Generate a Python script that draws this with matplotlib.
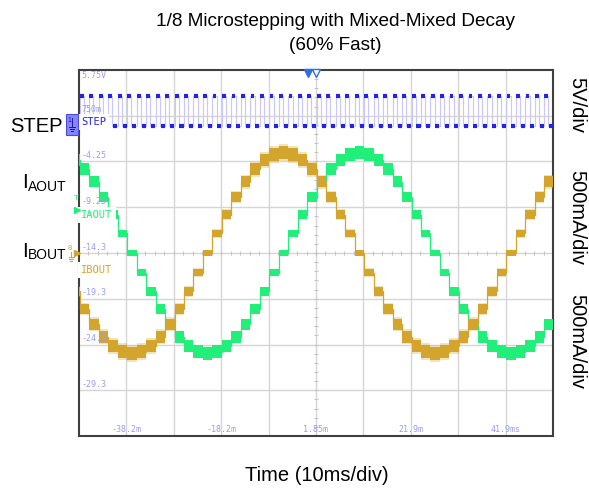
import numpy as np
import matplotlib
matplotlib.use('Agg')
import matplotlib.pyplot as plt
from matplotlib.patches import Rectangle

plt.rcParams['font.family'] = ['Liberation Sans', 'DejaVu Sans']

# scope screen: 10 ms/div centred on 1.85 ms, ch1 grid at 5 V/div
x_left, x_right = -48.15, 51.85
y_top, y_bottom = 5.75, -34.25
y_center = -14.25
x_center = 1.85

grid_x_labels = ['-38.2m', '-18.2m', '1.85m', '21.9m', '41.9ms']
grid_y_labels = ['5.75V', '750m', '-4.25', '-9.25', '-14.3', '-19.3', '-24.3', '-29.3']

# STEP input (ch1), rising edge every microstep
step_edges_ms = [-48, -46, -44, -42, -40, -38, -36, -34, -32, -30,
                 -28, -26, -24, -22, -20, -18, -16, -14, -12, -10,
                 -8, -6, -4, -2, 0, 2, 4, 6, 8, 10,
                 12, 14, 16, 18, 20, 22, 24, 26, 28, 30,
                 32, 34, 36, 38, 40, 42, 44, 46, 48, 50]
step_high_ms = 0.9
step_low_v = -0.35
step_high_v = 2.9

# winding currents in mA, one level per microstep (first one before the first edge)
iaout_ma = [1015, 915, 780, 610, 420, 215, 0, -215, -420, -610,
            -780, -915, -1015, -1080, -1100, -1080, -1015, -915, -780, -610,
            -420, -215, 0, 215, 420, 610, 780, 915, 1015, 1080,
            1100, 1080, 1015, 915, 780, 610, 420, 215, 0, -215,
            -420, -610, -780, -915, -1015, -1080, -1100, -1080, -1015, -915,
            -780]
ibout_ma = [-420, -610, -780, -915, -1015, -1080, -1100, -1080, -1015, -915,
            -780, -610, -420, -215, 0, 215, 420, 610, 780, 915,
            1015, 1080, 1100, 1080, 1015, 915, 780, 610, 420, 215,
            0, -215, -420, -610, -780, -915, -1015, -1080, -1100, -1080,
            -1015, -915, -780, -610, -420, -215, 0, 215, 420, 610,
            780]
trigger_level_ma = 470

c_step = '#2323ee'
c_step_thin = '#c8c8ff'
c_a = '#22ee7a'
c_b = '#d4a52c'
c_grat = '#9c9cf2'

W, H = 589, 494


def fx(px):
    return px / W


def fy(py):
    return 1 - py / H


def ma_to_y(ma):
    # 500 mA/div drawn on the 5 V/div grid
    return y_center + np.asarray(ma, dtype=float) / 100.0


fig = plt.figure(figsize=(W / 100, H / 100), dpi=100)
ax = fig.add_axes([fx(79), fy(436), 474 / W, 366 / H])
ax.set_xlim(x_left, x_right)
ax.set_ylim(y_bottom, y_top)
ax.set_xticks([])
ax.set_yticks([])
for s in ax.spines.values():
    s.set_color('#404040')
    s.set_linewidth(1.5)

# graticule
for k in range(1, 10):
    ax.axvline(x_left + 10 * k, color='#d6d6d6', lw=1, zorder=0)
for k in range(1, 8):
    ax.axhline(y_top - 5 * k, color='#d6d6d6', lw=1, zorder=0)
ax.vlines(np.arange(x_left, x_right, 2), y_center - 0.25, y_center + 0.25,
          color='#c4c4c4', lw=0.8, zorder=0)
ax.hlines(np.arange(y_bottom, y_top, 1), x_center - 0.45, x_center + 0.45,
          color='#c4c4c4', lw=0.8, zorder=0)

for i, lbl in enumerate(grid_y_labels):
    yv = y_top - 5 * i
    if i == 0:
        ax.annotate(lbl, (x_left, yv), xytext=(2, -1), textcoords='offset points',
                    ha='left', va='top', fontsize=6, family='DejaVu Sans Mono',
                    color=c_grat, zorder=6)
    else:
        ax.annotate(lbl, (x_left, yv), xytext=(2, 1), textcoords='offset points',
                    ha='left', va='bottom', fontsize=6, family='DejaVu Sans Mono',
                    color=c_grat, zorder=6)
for i, lbl in enumerate(grid_x_labels):
    xv = x_left + 10 * (1 + 2 * i)
    ax.annotate(lbl, (xv, y_bottom), xytext=(0, 1.5), textcoords='offset points',
                ha='center', va='bottom', fontsize=6, family='DejaVu Sans Mono',
                color=c_grat, zorder=6)

# STEP trace
edges = np.array(step_edges_ms, dtype=float)
sx, sy = [x_left], [step_low_v]
for e in edges:
    sx += [e, e, e + step_high_ms, e + step_high_ms]
    sy += [step_low_v, step_high_v, step_high_v, step_low_v]
sx.append(x_right)
sy.append(step_low_v)
ax.plot(sx, sy, color=c_step_thin, lw=0.8, zorder=2)
ax.hlines(np.full(len(edges), step_high_v), edges + 0.05, edges + step_high_ms - 0.05,
          color=c_step, lw=3, zorder=3)
ax.hlines(np.full(len(edges), step_low_v), edges + step_high_ms + 0.15,
          np.minimum(edges + 1.9, x_right), color=c_step, lw=3, zorder=3)

# current traces
bounds = np.array([x_left] + step_edges_ms + [x_right], dtype=float)


def draw_current(levels, color, z, fuzz):
    lv = np.asarray(levels, dtype=float)
    y = ma_to_y(lv)
    h = (28 + 0.04 * np.abs(lv)) / 100.0
    yy = np.append(y, y[-1])
    hh = np.append(h, h[-1])
    if fuzz:
        ax.fill_between(bounds, yy - hh * 1.3, yy + hh * 1.3, step='post',
                        color=color, alpha=0.3, lw=0, zorder=z)
    ax.fill_between(bounds, yy - hh, yy + hh, step='post', color=color, lw=0, zorder=z)
    ax.step(bounds, yy, where='post', color=color, lw=0.9, zorder=z)


draw_current(iaout_ma, c_a, 3, False)
draw_current(ibout_ma, c_b, 3.5, True)

# channel tags inside the screen
box = dict(boxstyle='square,pad=0.3', fc='white', ec='none')
ax.text(x_left + 0.5, 0.05, 'STEP', fontsize=7.5, family='DejaVu Sans Mono',
        color=c_step, ha='left', va='center', bbox=box, zorder=5)
ax.text(x_left + 0.5, -10.1, 'IAOUT', fontsize=7.5, family='DejaVu Sans Mono',
        color=c_a, ha='left', va='center', bbox=box, zorder=5)
ax.text(x_left + 0.5, -16.1, 'IBOUT', fontsize=7.5, family='DejaVu Sans Mono',
        color=c_b, ha='left', va='center', bbox=box, zorder=5)

# trigger / position markers
ax.plot([0.15], [y_top - 0.35], marker='v', ms=6, color='#2f6fe6', clip_on=False, zorder=7)
ax.plot([x_center], [y_top - 0.35], marker='v', ms=6, mfc='white', mec='#2f6fe6',
        clip_on=False, zorder=7)
ax.plot([x_left - 0.45], [ma_to_y(trigger_level_ma)], marker='>', ms=4.5, color=c_a,
        clip_on=False, zorder=7)
fig.text(fx(76), fy(199), 'T', fontsize=6, color=c_a, ha='center', va='center')
ax.plot([x_left - 0.45], [y_center], marker='>', ms=4.5, color=c_b, clip_on=False, zorder=7)
fig.text(fx(70), fy(248), '8', fontsize=5.5, color=c_b, ha='center', va='center')
for i, w in enumerate([5, 3.5, 2]):
    fig.add_artist(plt.Line2D([fx(71 - w / 2), fx(71 + w / 2)], [fy(257 + 2 * i)] * 2,
                              color=c_b, lw=0.8, transform=fig.transFigure))
fig.add_artist(plt.Line2D([fx(71), fx(71)], [fy(252), fy(257)], color=c_b, lw=0.8,
                          transform=fig.transFigure))

fig.add_artist(Rectangle((fx(66), fy(135)), 12 / W, 21 / H, transform=fig.transFigure,
                         facecolor='#8585ff', edgecolor='#4a4ae0', lw=0.8))
fig.text(fx(69), fy(120), '1', fontsize=5, color='#1a1aa0', ha='center', va='center')
fig.add_artist(plt.Line2D([fx(72), fx(72)], [fy(118), fy(126)], color='#1a1aa0', lw=0.7,
                          transform=fig.transFigure))
for i, w in enumerate([6, 4, 2]):
    fig.add_artist(plt.Line2D([fx(72 - w / 2), fx(72 + w / 2)], [fy(127 + 2 * i)] * 2,
                              color='#1a1aa0', lw=0.7, transform=fig.transFigure))

# outer labels
fig.text(fx(335), fy(21), '1/8 Microstepping with Mixed-Mixed Decay', fontsize=13.7,
         ha='center', va='center')
fig.text(fx(335), fy(45), '(60% Fast)', fontsize=13.7, ha='center', va='center')
fig.text(fx(317), fy(475), 'Time (10ms/div)', fontsize=14.5, ha='center', va='center')

fig.text(fx(10), fy(127), 'STEP', fontsize=14.5, ha='left', va='center')
fig.text(fx(22), fy(188), 'I', fontsize=15, ha='left', va='baseline')
fig.text(fx(27.5), fy(191), 'AOUT', fontsize=10, ha='left', va='baseline')
fig.text(fx(22), fy(257), 'I', fontsize=15, ha='left', va='baseline')
fig.text(fx(27.5), fy(259), 'BOUT', fontsize=10, ha='left', va='baseline')

fig.text(fx(577), fy(105), '5V/div', fontsize=14.5, rotation=-90, ha='center', va='center')
fig.text(fx(577), fy(217), '500mA/div', fontsize=14.5, rotation=-90, ha='center', va='center')
fig.text(fx(577), fy(341), '500mA/div', fontsize=14.5, rotation=-90, ha='center', va='center')

fig.savefig('out.png', dpi=100, facecolor='white')
